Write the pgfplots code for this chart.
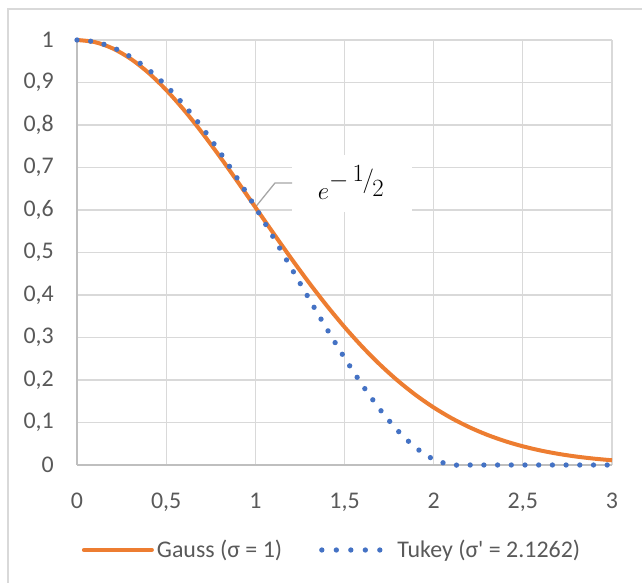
\documentclass[border=0pt]{standalone}
\usepackage{fontspec}
\setmainfont{Carlito}
\usepackage{pgfplots}
\pgfplotsset{compat=1.18}
\definecolor{gaussc}{HTML}{ED7D31}
\definecolor{tukeyc}{HTML}{4472C4}
\definecolor{gridc}{HTML}{D9D9D9}
\definecolor{axisc}{HTML}{BFBFBF}
\definecolor{txtc}{HTML}{595959}
\definecolor{leadc}{HTML}{A6A6A6}
\pgfplotsset{
  gaussleg/.style={legend image code/.code={\draw[##1, line cap=round] (0bp,0bp) -- (68bp,0bp);}},
  tukeyleg/.style={legend image code/.code={\draw[##1, dash pattern=on 0bp off 14.5bp] (0bp,0bp) -- (70bp,0bp);}},
}
\begin{document}
\begin{tikzpicture}[x=1bp,y=1bp]
\path[use as bounding box] (0,0) rectangle (642,583);
\begin{scope}
\clip (0,0) rectangle (642,583);
\draw[gridc, line width=1.3bp] (8,-20) rectangle (660,574);
\end{scope}
\begin{axis}[
  at={(77bp,118bp)}, anchor=south west, scale only axis,
  width=535bp, height=425bp,
  xmin=0, xmax=3, ymin=0, ymax=1,
  xtick={0,0.5,1,1.5,2,2.5,3},
  ytick={0,0.1,0.2,0.3,0.4,0.5,0.6,0.7,0.8,0.9,1},
  axis x line*=bottom, axis y line*=left,
  axis line style={axisc, line width=1.3bp, -},
  grid=major, major grid style={gridc, line width=1.3bp},
  major tick length=0pt,
  clip=false,
  /pgf/number format/.cd, use comma, fixed, assume math mode=true, /pgfplots/.cd,
  tick label style={font=\fontsize{24}{28}\selectfont, text=txtc, inner sep=0pt},
  xticklabel style={anchor=north, yshift=-28bp},
  yticklabel style={anchor=east, xshift=-23bp},
  legend style={at={(0.4776,-0.2)}, anchor=center, draw=none, fill=none,
    font=\fontsize{24}{28}\selectfont, text=txtc,
    nodes={inner sep=3bp},
    /tikz/every even column/.style={column sep=34bp}},
  legend cell align=left, legend columns=2,
]
\fill[white] (axis cs:1.206,0.595) rectangle (axis cs:1.879,0.7294);
\draw[leadc, line width=1.3bp] (axis cs:1,0.6065) -- (axis cs:1.110,0.6635) -- (axis cs:1.206,0.6635);
\node[inner sep=0pt] at (axis cs:1.537,0.665) {\fontsize{38}{42}\selectfont $e^{-\,\raisebox{0.35ex}{$\scriptstyle 1$}\mkern-1mu/\mkern-1mu\raisebox{-0.5ex}{$\scriptstyle 2$}}$};
\addplot[gaussc, line width=4bp, smooth, gaussleg]
  coordinates {
(0,1) (0.1,0.99501) (0.2,0.98020) (0.3,0.95600) (0.4,0.92312) (0.5,0.88250)
(0.6,0.83527) (0.7,0.78270) (0.8,0.72615) (0.9,0.66698) (1.0,0.60653)
(1.1,0.54607) (1.2,0.48675) (1.3,0.42956) (1.4,0.37531) (1.5,0.32465)
(1.6,0.27804) (1.7,0.23575) (1.8,0.19790) (1.9,0.16447) (2.0,0.13534)
(2.1,0.11025) (2.2,0.08892) (2.3,0.07100) (2.4,0.05613) (2.5,0.04394)
(2.6,0.03405) (2.7,0.02612) (2.8,0.01984) (2.9,0.01492) (3.0,0.01111)
};
\addlegendentry{Gauss (σ = 1)}
\addplot[tukeyc, line width=5.3bp, line cap=round, dash pattern=on 0bp off 13.7bp, smooth, tukeyleg]
  coordinates {
(0,1) (0.1,0.99558) (0.2,0.98238) (0.3,0.96058) (0.4,0.93047) (0.5,0.89246)
(0.6,0.84708) (0.7,0.79497) (0.8,0.73690) (0.9,0.67375) (1.0,0.60652)
(1.1,0.53633) (1.2,0.46440) (1.3,0.39208) (1.4,0.32086) (1.5,0.25230)
(1.6,0.18811) (1.7,0.13012) (1.8,0.08026) (1.9,0.04058) (2.0,0.01327)
(2.1,0.00060) (2.2,0) (2.3,0) (2.4,0) (2.5,0)
(2.6,0) (2.7,0) (2.8,0) (2.9,0) (3.0,0)
};
\addlegendentry{Tukey (σ\textquotesingle{} = 2.1262)}
\end{axis}
\end{tikzpicture}
\end{document}
